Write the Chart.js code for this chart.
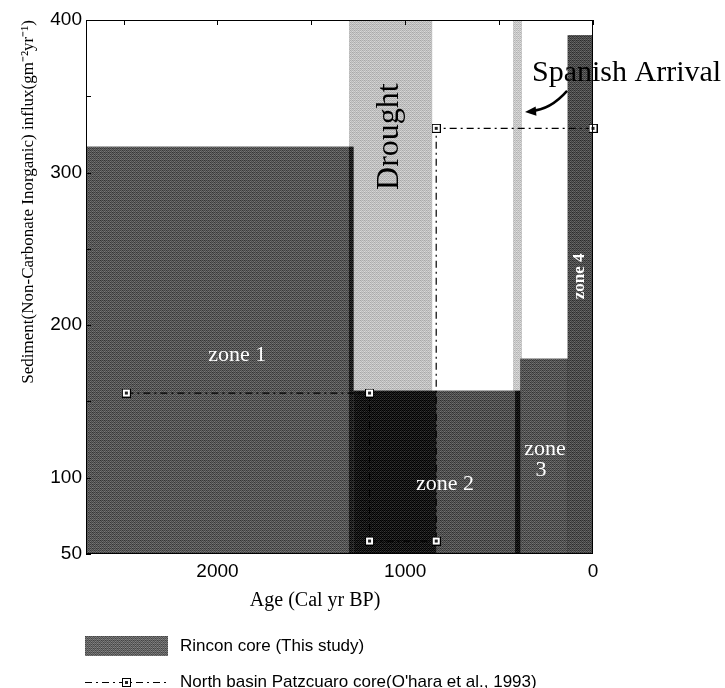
<!DOCTYPE html>
<html>
<head>
<meta charset="utf-8">
<title>Sediment influx</title>
<script src="https://cdn.jsdelivr.net/npm/chart.js@4.4.1/dist/chart.umd.min.js"></script>
<style>
  html, body { margin: 0; padding: 0; background: #fff; }
  #wrap { position: relative; width: 725px; height: 688px; overflow: hidden; }
  #chart { position: absolute; left: 0; top: 0; }
  .key { position: absolute; left: 85px; display: flex; align-items: center; height: 20px;
         font: 17px "Liberation Sans", Arial, sans-serif; color: #000; white-space: nowrap; }
  .key canvas { margin-right: 12px; }
</style>
</head>
<body>
<div id="wrap">
  <canvas id="chart" width="725" height="688"></canvas>
  <div class="key" style="top:636px"><canvas id="keyRincon" width="83" height="20"></canvas><span id="labelRincon"></span></div>
  <div class="key" style="top:672px"><canvas id="keyNorth" width="83" height="20"></canvas><span id="labelNorth"></span></div>
</div>
<script>
// ----------------------------
// DATA
// ----------------------------
const rinconName = 'Rincon core (This study)';
const northName = "North basin Patzcuaro core(O'hara et al., 1993)";

// Rincon core: interval edges (cal yr BP) and influx over each interval
const rinconAges = [2700, 1300, 1275, 835, 415, 387, 135, 0];
const rinconFlux = [317, 317, 157, 157, 157, 178, 390];

// North basin core points
const northAges = [2485, 1190, 1190, 835, 835, 0];
const northFlux = [155.5, 155.5, 58.5, 58.5, 329, 329];

// shaded periods
const droughtAges = [1300, 855];
const spanishAges = [426, 378];

const xTicks = [2500, 2000, 1500, 1000, 500, 0];
const xLabels = [2000, 1000, 0];
const yTicks = [50, 100, 150, 200, 250, 300, 350, 400];
const yLabels = [50, 100, 200, 300, 400];

const yTitle = 'Sediment(Non-Carbonate Inorganic) influx(gm\u207B\u00B2yr\u207B\u00B9)';
const xTitle = 'Age (Cal yr BP)';

// ----------------------------
// STYLE HELPERS
// ----------------------------
// grey level of each Rincon interval (halftone look)
const rinconShades = [86, 30, 20, 80, 16, 84, 76];

const bayer = [0, 8, 2, 10, 12, 4, 14, 6, 3, 11, 1, 9, 15, 7, 13, 5];
function screen(level, spread) {
  const c = document.createElement('canvas');
  c.width = c.height = 4;
  const g = c.getContext('2d');
  bayer.forEach((b, i) => {
    const v = Math.max(0, Math.min(255, Math.round(level + (b / 15 - 0.5) * spread)));
    g.fillStyle = `rgb(${v},${v},${v})`;
    g.fillRect(i % 4, Math.floor(i / 4), 1, 1);
  });
  return g.createPattern(c, 'repeat');
}

function marker() {
  const c = document.createElement('canvas');
  c.width = c.height = 9;
  const g = c.getContext('2d');
  g.fillStyle = '#000'; g.fillRect(0, 0, 9, 9);
  g.fillStyle = '#fff'; g.fillRect(1, 1, 7, 7);
  g.fillStyle = '#222'; g.fillRect(3, 3, 3, 3);
  return c;
}
const square = marker();
const dashDot = [7, 4, 2, 4];

// ----------------------------
// DATASETS
// ----------------------------
const yMax = 400;

function band(ages, level) {
  return {
    label: 'band',
    data: ages.map(a => ({ x: a, y: yMax })),
    fill: 'start',
    backgroundColor: screen(level, 50),
    borderWidth: 0,
    pointRadius: 0,
    order: 5
  };
}

const datasets = [
  band(droughtAges, 192),
  band(spanishAges, 200)
];

// dark envelope under the intervals so no light seams show between them
datasets.push({
  label: rinconName,
  data: rinconAges.map((a, i) => ({ x: a, y: rinconFlux[Math.min(i, rinconFlux.length - 1)] })),
  stepped: true,
  fill: 'start',
  backgroundColor: '#3a3a3a',
  borderWidth: 0,
  pointRadius: 0,
  order: 4
});

rinconFlux.forEach((v, i) => {
  datasets.push({
    label: rinconName,
    data: [{ x: rinconAges[i], y: v }, { x: rinconAges[i + 1], y: v }],
    fill: 'start',
    backgroundColor: screen(rinconShades[i], 70),
    borderWidth: 0,
    pointRadius: 0,
    order: 3
  });
});

datasets.push({
  label: northName,
  data: northAges.map((a, i) => ({ x: a, y: northFlux[i] })),
  fill: false,
  clip: false,
  borderColor: '#000',
  borderWidth: 1.2,
  borderDash: dashDot,
  pointStyle: square,
  pointRadius: 4,
  order: 1
});

// ----------------------------
// FRAME, TICKS, NOTES
// ----------------------------
const serif = '"Liberation Serif", "Times New Roman", serif';

const frame = {
  id: 'frame',
  afterDatasetsDraw(chart) {
    const { ctx, chartArea: a, scales: { x, y } } = chart;
    ctx.save();
    ctx.strokeStyle = '#000';
    ctx.lineWidth = 1;
    ctx.strokeRect(a.left + 0.5, a.top + 0.5, a.width - 1, a.height - 1);

    // inside ticks
    ctx.beginPath();
    xTicks.forEach(v => {
      const p = Math.round(x.getPixelForValue(v)) + 0.5;
      ctx.moveTo(p, a.top); ctx.lineTo(p, a.top + 5);
    });
    yTicks.forEach(v => {
      const p = Math.round(y.getPixelForValue(v)) + 0.5;
      ctx.moveTo(a.left, p); ctx.lineTo(a.left + 5, p);
    });
    ctx.stroke();

    // zone labels
    ctx.fillStyle = '#fff';
    ctx.textAlign = 'center';
    ctx.textBaseline = 'alphabetic';
    ctx.font = '22px ' + serif;
    ctx.fillText('zone 1', x.getPixelForValue(1895), y.getPixelForValue(176.5));
    ctx.fillText('zone 2', x.getPixelForValue(788), y.getPixelForValue(92));
    ctx.fillText('zone', x.getPixelForValue(256), y.getPixelForValue(115));
    ctx.fillText('3', x.getPixelForValue(277), y.getPixelForValue(101));

    ctx.save();
    ctx.translate(x.getPixelForValue(48), y.getPixelForValue(232));
    ctx.rotate(-Math.PI / 2);
    ctx.font = 'bold 17px ' + serif;
    ctx.fillText('zone 4', 0, 0);
    ctx.restore();

    // drought
    ctx.fillStyle = '#000';
    ctx.save();
    ctx.translate(x.getPixelForValue(1038), y.getPixelForValue(323.6));
    ctx.rotate(-Math.PI / 2);
    ctx.font = '32px ' + serif;
    ctx.fillText('Drought', 0, 0);
    ctx.restore();

    // spanish arrival + arrow
    ctx.textAlign = 'left';
    ctx.font = '30px ' + serif;
    ctx.fillText('Spanish Arrival', x.getPixelForValue(325), y.getPixelForValue(360));

    const x0 = x.getPixelForValue(138), y0 = y.getPixelForValue(353.5);
    const cx = x.getPixelForValue(228), cy = y.getPixelForValue(341);
    const x1 = x.getPixelForValue(362), y1 = y.getPixelForValue(339.7);
    ctx.lineWidth = 2.5;
    ctx.beginPath();
    ctx.moveTo(x0, y0);
    ctx.quadraticCurveTo(cx, cy, x1 + 6, y1 - 1);
    ctx.stroke();
    const ang = Math.atan2(y1 - cy, x1 - cx);
    ctx.beginPath();
    ctx.moveTo(x1, y1);
    ctx.lineTo(x1 - 12 * Math.cos(ang - 0.4), y1 - 12 * Math.sin(ang - 0.4));
    ctx.lineTo(x1 - 12 * Math.cos(ang + 0.4), y1 - 12 * Math.sin(ang + 0.4));
    ctx.closePath();
    ctx.fill();

    // x axis title
    ctx.textAlign = 'center';
    ctx.font = '20px ' + serif;
    ctx.fillText(xTitle, x.getPixelForValue(1480), a.bottom + 52);
    ctx.restore();
  }
};

// ----------------------------
// CHART
// ----------------------------
const chart = new Chart(document.getElementById('chart'), {
  type: 'line',
  data: { datasets },
  options: {
    responsive: false,
    animation: false,
    devicePixelRatio: 1,
    layout: { padding: { top: 20, right: 132, bottom: 0, left: 0 } },
    plugins: {
      legend: { display: false },
      tooltip: { enabled: false },
      filler: { propagate: false }
    },
    scales: {
      x: {
        type: 'linear',
        reverse: true,
        min: 0,
        max: 2700,
        grid: { display: false, drawTicks: false },
        border: { display: false },
        afterBuildTicks: s => { s.ticks = xTicks.map(v => ({ value: v })); },
        afterFit: s => { s.height = 134; },
        ticks: {
          autoSkip: false,
          maxRotation: 0,
          padding: 6,
          color: '#000',
          font: { family: 'Liberation Sans', size: 19 },
          callback: v => xLabels.includes(v) ? String(v) : ''
        }
      },
      y: {
        min: 50,
        max: yMax,
        grid: { display: false, drawTicks: false },
        border: { display: false },
        afterBuildTicks: s => { s.ticks = yTicks.map(v => ({ value: v })); },
        afterFit: s => { s.width = 86; },
        ticks: {
          autoSkip: false,
          padding: 4,
          color: '#000',
          font: { family: 'Liberation Sans', size: 19 },
          callback: v => yLabels.includes(v) ? String(v) : ''
        },
        title: {
          display: true,
          text: yTitle,
          align: 'end',
          color: '#000',
          font: { family: 'Liberation Serif', size: 17 },
          padding: { top: 18, bottom: 0 }
        }
      }
    }
  },
  plugins: [frame]
});

// ----------------------------
// LEGEND
// ----------------------------
document.getElementById('labelRincon').textContent = rinconName;
document.getElementById('labelNorth').textContent = northName;

const kr = document.getElementById('keyRincon').getContext('2d');
kr.fillStyle = screen(100, 70);
kr.fillRect(0, 0, 83, 20);

const kn = document.getElementById('keyNorth').getContext('2d');
kn.strokeStyle = '#000';
kn.lineWidth = 1.2;
kn.setLineDash(dashDot);
kn.beginPath();
kn.moveTo(0, 10.5);
kn.lineTo(83, 10.5);
kn.stroke();
kn.drawImage(square, 37, 6);
</script>
</body>
</html>
